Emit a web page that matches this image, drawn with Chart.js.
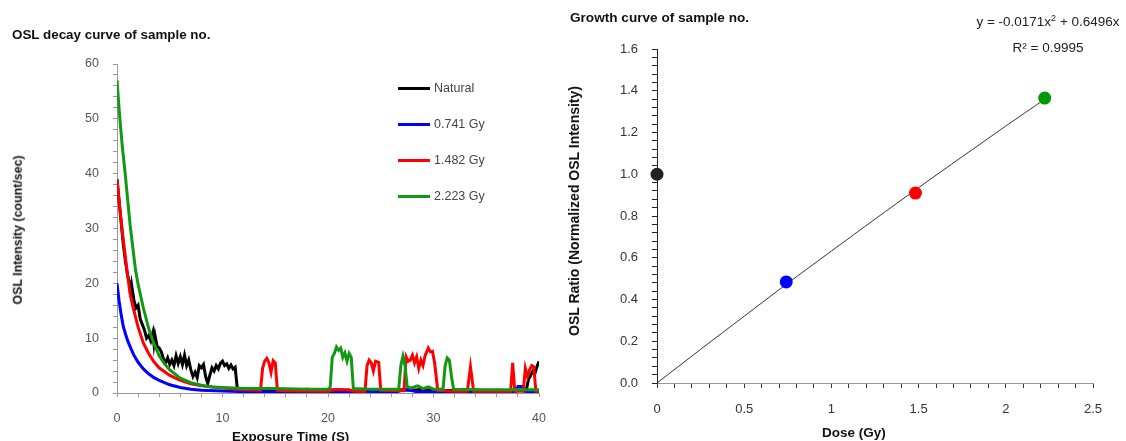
<!DOCTYPE html>
<html>
<head>
<meta charset="utf-8">
<script src="https://cdn.jsdelivr.net/npm/chart.js@4.4.1/dist/chart.umd.min.js"></script>
<style>
  html,body{margin:0;padding:0;background:#fff;}
  body{width:1126px;height:441px;overflow:hidden;position:relative;font-family:"Liberation Sans",Arial,sans-serif;}
  #cl{position:absolute;left:0;top:0;}
  #cr{position:absolute;left:560px;top:0;}
  .t{position:absolute;white-space:nowrap;line-height:1;}
  .b{font-weight:bold;color:#111;}
  .rot{transform:translate(-50%,-50%) rotate(-90deg);}
  .leg{position:absolute;left:398px;width:32px;height:3px;}
  .legt{position:absolute;left:434px;font-size:12.5px;color:#444;line-height:1;}
  .eq{font-size:13.5px;color:#222;transform:translateX(-50%);}
  sup{font-size:9px;vertical-align:5px;line-height:0;}
</style>
</head>
<body>
<canvas id="cl" width="560" height="441"></canvas>
<canvas id="cr" width="566" height="441"></canvas>

<div class="t b" style="left:12px;top:28px;font-size:13.4px;">OSL decay curve of sample no.</div>
<div class="t b rot" style="left:18px;top:230px;font-size:12.4px;">OSL Intensity (count/sec)</div>
<div class="t b" style="left:232px;top:430px;font-size:13.4px;">Exposure Time (S)</div>

<div class="leg" style="top:87px;background:#000;"></div><div class="legt" style="top:82px;">Natural</div>
<div class="leg" style="top:123px;background:#0000ff;"></div><div class="legt" style="top:118px;">0.741 Gy</div>
<div class="leg" style="top:159px;background:#ff0000;"></div><div class="legt" style="top:154px;">1.482 Gy</div>
<div class="leg" style="top:195px;background:#119911;"></div><div class="legt" style="top:190px;">2.223 Gy</div>

<div class="t b" style="left:570px;top:11px;font-size:13.6px;">Growth curve of sample no.</div>
<div class="t b rot" style="left:574px;top:211px;font-size:14px;">OSL Ratio (Normalized OSL Intensity)</div>
<div class="t b" style="left:822px;top:426px;font-size:13.5px;">Dose (Gy)</div>
<div class="t eq" style="left:1048px;top:15px;">y = -0.0171x<sup>2</sup> + 0.6496x</div>
<div class="t eq" style="left:1048px;top:41px;">R² = 0.9995</div>

<script>
// ---------- Left chart data: OSL decay curves [time (s), intensity (count/sec)] ----------
const natural = [[0,39],[0.2,35],[0.4,31],[0.6,27],[0.8,24],[1.0,21.5],[1.2,20],[1.3,17.5],[1.4,19.5],[1.6,17],[1.8,15.5],[2.0,16],[2.2,13.5],[2.4,12.5],[2.6,11.5],[2.8,10],[3.0,10.5],[3.2,9.5],[3.4,11],[3.5,9],[3.6,10.5],[3.8,8.5],[4.0,8.2],[4.2,7.5],[4.4,6.2],[4.6,5.5],[4.8,6.4],[5.0,5.2],[5.2,6.0],[5.4,5.0],[5.6,6.8],[5.8,5.4],[6.0,6.6],[6.2,5.2],[6.4,6.9],[6.6,5.0],[6.8,6.0],[7.0,4.2],[7.2,3.0],[7.4,3.8],[7.6,2.8],[7.8,5.0],[8.0,4.6],[8.2,5.2],[8.4,3.0],[8.6,1.8],[8.8,3.2],[9.0,4.6],[9.2,4.0],[9.4,5.0],[9.6,4.4],[9.8,5.4],[10.0,5.8],[10.2,5.0],[10.4,5.3],[10.6,4.5],[10.8,5.1],[11.0,4.4],[11.2,4.7],[11.4,0.8],[12,0.6],[13,0.5],[14,0.6],[15,0.5],[16,0.6],[17,0.5],[18,0.7],[19,0.5],[20,0.5],[21,0.6],[22,0.4],[23,0.5],[24,0.4],[25,0.5],[26,0.4],[27,0.6],[28,0.5],[29,0.7],[30,0.5],[31,0.4],[32,0.5],[33,0.4],[34,0.5],[35,0.4],[36,0.5],[37,0.4],[38,0.5],[38.8,0.6],[39.0,2.5],[39.2,3.2],[39.4,4.0],[39.6,3.5],[39.8,4.8],[40,5.8]];
const dose0741 = [[0,20],[0.2,16.8],[0.4,14.2],[0.6,12.1],[0.8,10.8],[1.0,9.6],[1.3,8.2],[1.6,6.9],[2.0,5.6],[2.5,4.4],[3.0,3.5],[3.5,2.8],[4.0,2.3],[5.0,1.5],[6,1.0],[7,0.7],[8,0.5],[10,0.35],[12,0.25],[15,0.2],[20,0.2],[26.5,0.2],[27,0.5],[27.5,0.6],[28,0.4],[28.5,0.2],[37.8,0.2],[38,1.2],[38.4,1.2],[38.6,0.3],[40,0.2]];
const dose1482 = [[0,39],[0.25,34],[0.5,29.5],[0.75,25.5],[1.0,21.5],[1.25,18],[1.5,15.8],[2.0,12],[2.5,9.1],[3.0,7.2],[3.5,5.7],[4.0,4.6],[5,3.2],[6,2.3],[7,1.7],[8,1.3],[10,0.9],[12,0.6],[13.6,0.5],[13.8,4.5],[14.0,5.8],[14.2,6.3],[14.4,5.5],[14.6,3.8],[14.8,5.9],[15.0,5.5],[15.2,0.5],[16,0.4],[20,0.3],[20.5,0.6],[22,0.6],[22.5,0.3],[23.5,0.3],[23.7,5],[23.9,6],[24.1,5.5],[24.3,4],[24.5,5.8],[24.8,5.6],[25.0,0.5],[27.2,0.4],[27.4,6.6],[27.6,5.8],[27.8,6.0],[28.0,6.9],[28.2,5.5],[28.4,6.6],[28.6,4.5],[28.8,6],[29.0,5],[29.2,6.8],[29.5,8.2],[29.7,7.5],[29.9,7.6],[30.1,5.5],[30.4,0.5],[32,0.3],[33.2,0.3],[33.5,4.8],[33.8,0.3],[37.3,0.3],[37.5,5.5],[37.7,0.3],[38.5,0.3],[38.7,4.5],[38.9,3],[39.1,4.2],[39.3,5],[39.5,4.8],[39.7,0.3],[40,0.3]];
const dose2223 = [[0,57],[0.25,50.5],[0.5,45],[0.75,40.5],[1.0,35.5],[1.25,30.5],[1.5,26.5],[1.75,22.5],[2.0,19.8],[2.5,15.5],[3.0,11.8],[3.5,9],[4.0,6.8],[4.5,5.3],[5,4.2],[6,2.7],[7,1.9],[8,1.4],[9,1.1],[10,1.0],[12,0.8],[15,0.8],[18,0.7],[20,0.7],[20.2,1],[20.4,6.5],[20.6,7.2],[20.8,8.4],[21.0,7.8],[21.2,8.2],[21.4,6.5],[21.6,7.3],[21.8,5.8],[22.0,7.2],[22.2,6.5],[22.4,0.8],[24,0.7],[26.7,0.7],[26.9,5],[27.1,6.7],[27.3,5],[27.5,1.2],[27.8,0.9],[28.5,1.3],[29,0.8],[29.5,1.1],[30,0.7],[30.9,0.7],[31.1,5],[31.3,6.4],[31.5,6],[31.7,3],[31.9,0.7],[35,0.6],[40,0.6]];
const decayLabels = ['Natural','0.741 Gy','1.482 Gy','2.223 Gy'];
const decayTicksX = [0,10,20,30,40];
const decayTicksY = [0,10,20,30,40,50,60];

// ---------- Right chart data: growth curve ----------
const doses  = [0, 0.741, 1.482, 2.223];
const ratios = [1.0, 0.484, 0.91, 1.365];
const fitDose  = [0, 0.25, 0.5, 0.75, 1.0, 1.25, 1.5, 1.75, 2.0, 2.223];
const fitRatio = [0, 0.161, 0.320, 0.478, 0.632, 0.785, 0.936, 1.084, 1.231, 1.359];

const toXY = arr => arr.map(p => ({x: p[0], y: p[1]}));
Chart.defaults.font.family = '"Liberation Sans", Arial, sans-serif';

const lineDs = (label, arr, color, order) => ({
  label, data: toXY(arr), borderColor: color, backgroundColor: color,
  borderWidth: 3, pointRadius: 0, tension: 0, fill: false, order
});

new Chart(document.getElementById('cl'), {
  type: 'line',
  data: { datasets: [
    lineDs(decayLabels[3], dose2223, '#119911', 0),
    lineDs(decayLabels[2], dose1482, '#ff0000', 1),
    lineDs(decayLabels[1], dose0741, '#0000ff', 2),
    lineDs(decayLabels[0], natural, '#000000', 3)
  ]},
  options: {
    responsive: false, animation: false,
    layout: { padding: { left: 0, right: 18, top: 64, bottom: 0 } },
    plugins: { legend: { display: false }, tooltip: { enabled: false } },
    scales: {
      x: {
        type: 'linear', min: 0, max: 40,
        ticks: { stepSize: 2, autoSkip: false, maxTicksLimit: 200, maxRotation: 0, color: '#555',
                 font: { size: 12.5 }, padding: 14,
                 callback: v => decayTicksX.includes(v) ? String(v) : '' },
        grid: { drawOnChartArea: false, drawTicks: true, tickLength: 4, color: '#999' },
        border: { display: true, color: '#999' },
        afterFit: s => { s.height = 48; }
      },
      y: {
        type: 'linear', min: 0, max: 60,
        ticks: { stepSize: 2, autoSkip: false, maxTicksLimit: 200, color: '#555',
                 font: { size: 12.5 }, padding: 14,
                 callback: v => decayTicksY.includes(v) ? String(v) : '' },
        grid: { drawOnChartArea: false, drawTicks: true, tickLength: 4, color: '#999' },
        border: { display: true, color: '#999' },
        afterFit: s => { s.width = 117; }
      }
    }
  }
});

const near = (v, step) => Math.abs(v / step - Math.round(v / step)) < 1e-6;

new Chart(document.getElementById('cr'), {
  type: 'scatter',
  data: { datasets: [
    { label: 'fit', type: 'line', data: fitDose.map((d, i) => ({x: d, y: fitRatio[i]})),
      borderColor: '#333', borderWidth: 1, pointRadius: 0, tension: 0.3, fill: false, order: 2 },
    { label: 'points', data: doses.map((d, i) => ({x: d, y: ratios[i]})),
      pointBackgroundColor: ['#222222', '#0000ff', '#ff0000', '#009900'],
      pointBorderColor: ['#222222', '#0000ff', '#ff0000', '#009900'],
      pointRadius: 6.5, pointBorderWidth: 0, clip: false, order: 1 }
  ]},
  options: {
    responsive: false, animation: false,
    layout: { padding: { left: 0, right: 33, top: 49, bottom: 0 } },
    plugins: { legend: { display: false }, tooltip: { enabled: false } },
    scales: {
      x: {
        type: 'linear', min: 0, max: 2.5,
        ticks: { stepSize: 0.1, autoSkip: false, maxTicksLimit: 200, maxRotation: 0, color: '#333',
                 font: { size: 13 }, padding: 14,
                 callback: v => near(v, 0.5) ? String(Math.round(v * 10) / 10) : '' },
        grid: { drawOnChartArea: false, drawTicks: true, tickLength: 5, color: '#333' },
        border: { display: true, color: '#999' },
        afterFit: s => { s.height = 58; }
      },
      y: {
        type: 'linear', min: 0, max: 1.6,
        ticks: { stepSize: 0.04, autoSkip: false, maxTicksLimit: 200, color: '#333',
                 font: { size: 13 }, padding: 14,
                 callback: v => near(v, 0.2) ? v.toFixed(1) : '' },
        grid: { drawOnChartArea: false, drawTicks: true, tickLength: 5, color: '#222' },
        border: { display: true, color: '#222' },
        afterFit: s => { s.width = 97; }
      }
    }
  }
});
</script>
</body>
</html>
